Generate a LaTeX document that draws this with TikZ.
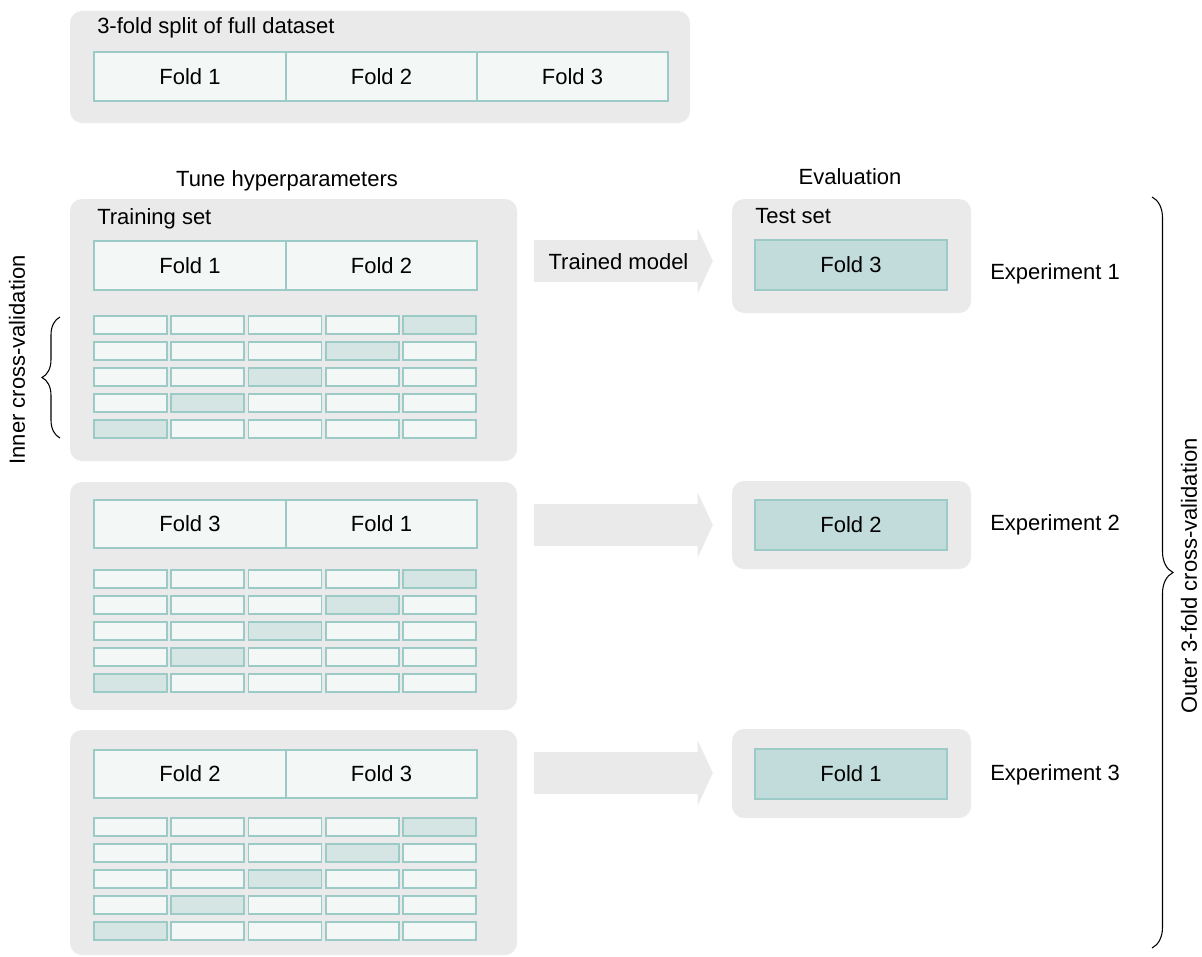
\documentclass[tikz,border=0pt]{standalone}
\usepackage{fontspec}
\setmainfont{Liberation Sans}
\usetikzlibrary{fit,shapes.arrows,decorations.pathreplacing}
\definecolor{bggray}{HTML}{EAEAEA}
\definecolor{tealline}{HTML}{9CCBC7}
\definecolor{foldfill}{HTML}{F3F7F6}
\definecolor{hifill}{HTML}{D5E5E4}
\definecolor{testfill}{HTML}{C1DCDB}
\begin{document}
\begin{tikzpicture}[x=0.75pt,y=-0.75pt,
  font=\fontsize{16.5}{19}\selectfont,
  bgbox/.style={fill=bggray, rounded corners=9pt, inner sep=0pt, draw=none},
  fold/.style={draw=tealline, fill=foldfill, line width=1pt, inner sep=0pt},
  cell/.style={draw=tealline, fill=foldfill, line width=1.2pt, inner sep=0pt},
  hicell/.style={cell, fill=hifill},
  testfold/.style={draw=tealline, fill=testfill, line width=1pt, inner sep=0pt},
  ftext/.style={inner sep=0pt, anchor=center},
  lbl/.style={inner sep=0pt, anchor=base west},
  clbl/.style={inner sep=0pt, anchor=base},
  rlbl/.style={inner sep=0pt, rotate=90},
  bigarrow/.style={single arrow, fill=bggray, draw=none, minimum height=134.25pt,
    minimum width=48.75pt, single arrow head extend=9pt, single arrow tip angle=130,
    text height=12pt, text depth=0pt, inner ysep=9.375pt, inner xsep=0pt},
  bracelin/.style={decorate, line width=0.8pt, draw=black}
]
\useasboundingbox (0,0) rectangle (1202,956);

% top split
\node[bgbox, fit={(70,11) (690,123)}] (top) {};
\node[lbl] (toptitle) at (97,33.5) {3-fold split of full dataset};
\node[fold, fit={(94,52) (286,101)}] (tf1) {};
\node[fold, fit={(286,52) (477,101)}] (tf2) {};
\node[fold, fit={(477,52) (668,101)}] (tf3) {};
\node[ftext] (tf1t) at (tf1.center) {Fold 1};
\node[ftext] (tf2t) at (tf2.center) {Fold 2};
\node[ftext] (tf3t) at (tf3.center) {Fold 3};

% column headers
\node[clbl] (tune) at (287,186) {Tune hyperparameters};
\node[clbl] (evalh) at (850,184) {Evaluation};

% training boxes
\node[bgbox, fit={(70,199) (517,461)}] (tr1) {};
\node[bgbox, fit={(70,482) (517,710)}] (tr2) {};
\node[bgbox, fit={(70,730) (517,955)}] (tr3) {};
\node[lbl] (trtitle) at (97,224) {Training set};

\foreach \n/\xa/\xb/\ya/\yb/\t in {tr1a/94/286/241/290/Fold 1, tr1b/286/477/241/290/Fold 2,
    tr2a/94/286/500/548/Fold 3, tr2b/286/477/500/548/Fold 1,
    tr3a/94/286/750/798/Fold 2, tr3b/286/477/750/798/Fold 3} {
  \node[fold, fit={(\xa,\ya) (\xb,\yb)}] (\n) {};
  \node[ftext] (\n t) at (\n.center) {\t};
}

% inner CV grids
\foreach \k/\yz in {1/316, 2/570, 3/818} {
  \foreach \r in {1,...,5} {
    \foreach \c in {1,...,5} {
      \pgfmathsetmacro{\xl}{94+(\c-1)*77.25}
      \pgfmathsetmacro{\xr}{\xl+73}
      \pgfmathsetmacro{\yt}{\yz+(\r-1)*26}
      \pgfmathsetmacro{\yb}{\yt+18}
      \pgfmathtruncatemacro{\hi}{(\c==6-\r)?1:0}
      \ifnum\hi=1
        \node[hicell, fit={(\xl,\yt) (\xr,\yb)}] (g\k-\r-\c) {};
      \else
        \node[cell, fit={(\xl,\yt) (\xr,\yb)}] (g\k-\r-\c) {};
      \fi
    }
  }
}

% test boxes
\node[bgbox, fit={(732,199) (971,313)}] (ts1) {};
\node[bgbox, fit={(732,481) (971,569)}] (ts2) {};
\node[bgbox, fit={(732,729) (971,818)}] (ts3) {};
\node[lbl] (tstitle) at (755,223) {Test set};
\node[testfold, fit={(755,240) (947,290)}] (tt1) {};
\node[testfold, fit={(755,500) (947,550)}] (tt2) {};
\node[testfold, fit={(755,749) (947,799)}] (tt3) {};
\node[ftext] (tt1t) at (tt1.center) {Fold 3};
\node[ftext] (tt2t) at (tt2.center) {Fold 2};
\node[ftext] (tt3t) at (tt3.center) {Fold 1};

% arrows
\node[bigarrow] (ar1) at (618.5,261) {Trained model};
\node[bigarrow] (ar2) at (618.5,525) {};
\node[bigarrow] (ar3) at (618.5,773) {};

% experiment labels
\node[lbl] (ex1) at (990,279) {Experiment 1};
\node[lbl] (ex2) at (990,530) {Experiment 2};
\node[lbl] (ex3) at (990,780) {Experiment 3};

% inner brace
\coordinate (ibot) at (60,438);
\coordinate (itop) at (60,317);
\draw[bracelin, decoration={brace, amplitude=13.5pt}] (ibot) -- (itop);
\node[rlbl] (innerlbl) at (17,360) {Inner cross-validation};

% outer brace
\coordinate (otop) at (1152,197);
\coordinate (obot) at (1152,948);
\draw[bracelin, decoration={brace, amplitude=15.75pt}] (otop) -- (obot);
\node[rlbl] (outerlbl) at (1189,576) {Outer 3-fold cross-validation};
\end{tikzpicture}
\end{document}
